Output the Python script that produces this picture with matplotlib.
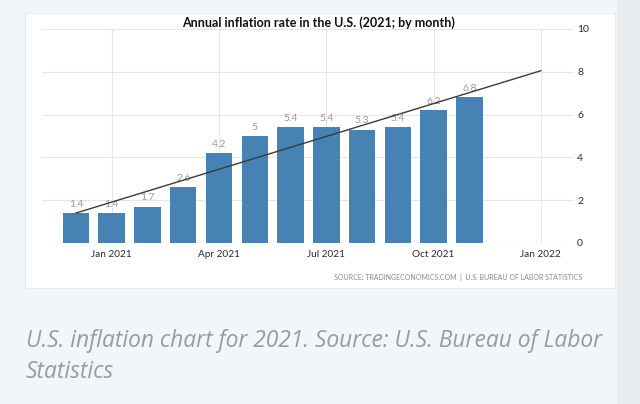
import matplotlib
matplotlib.use("Agg")
import matplotlib.pyplot as plt
from matplotlib.patches import Rectangle
import numpy as np

# data (annual CPI inflation, %)
months = ["Dec 2020", "Jan 2021", "Feb 2021", "Mar 2021", "Apr 2021", "May 2021",
          "Jun 2021", "Jul 2021", "Aug 2021", "Sep 2021", "Oct 2021", "Nov 2021",
          "Dec 2021", "Jan 2022"]
values = [1.4, 1.4, 1.7, 2.6, 4.2, 5.0, 5.4, 5.4, 5.3, 5.4, 6.2, 6.8]
value_labels = ["1.4", "1.4", "1.7", "2.6", "4.2", "5", "5.4", "5.4", "5.3", "5.4", "6.2", "6.8"]
tick_labels = ["Jan 2021", "Apr 2021", "Jul 2021", "Oct 2021", "Jan 2022"]
y_ticks = [0, 2, 4, 6, 8, 10]
trend_months = ["Dec 2020", "Jan 2022"]
trend_values = [1.4, 8.05]

W, H = 640, 404

def fx(px):
    return px / W

def fy(py):
    return 1 - py / H

fig = plt.figure(figsize=(6.4, 4.04), dpi=100)
fig.patch.set_facecolor("#f2f6f9")

# right page shadow strip and white chart panel
fig.patches.append(Rectangle((fx(617), 0), fx(640) - fx(617), 1, transform=fig.transFigure,
                             facecolor="#e8ecef", edgecolor="none", zorder=-2))
fig.patches.append(Rectangle((fx(25), fy(288)), fx(615) - fx(25), fy(13) - fy(288),
                             transform=fig.transFigure, facecolor="white",
                             edgecolor="#e4e8eb", linewidth=0.6, zorder=-1))

ax = fig.add_axes([fx(42), fy(243), fx(573) - fx(42), fy(29) - fy(243)])
ax.set_facecolor("none")
ax.set_zorder(2)

x = np.arange(len(values))
ax.bar(x, values, width=0.74, color="#4682b4", zorder=2)
for xi, v, lab in zip(x, values, value_labels):
    ax.annotate(lab, (xi, v), xytext=(0, 3), textcoords="offset points",
                ha="center", va="bottom", fontsize=7.5, color="#999999", family="Lato")

tx = [months.index(m) for m in trend_months]
ax.plot(tx, trend_values, color="#3a3a3a", linewidth=1.0, zorder=3)

ax.set_xlim(-0.95, 13.9)
ax.set_ylim(0, 10)
ax.set_xticks([months.index(t) for t in tick_labels])
ax.set_xticklabels(tick_labels, fontsize=7.2, color="#2a2a2a", family="Lato")
ax.set_yticks(y_ticks)
ax.set_yticklabels([str(t) for t in y_ticks], fontsize=7.5, color="#2a2a2a", family="Lato")
ax.yaxis.tick_right()
ax.tick_params(axis="both", length=0)
ax.tick_params(axis="x", pad=5)
ax.tick_params(axis="y", pad=3)
ax.grid(True, color="#e6e6e6", linewidth=0.8, zorder=0)
for s in ax.spines.values():
    s.set_visible(False)

fig.text(fx(318), fy(23), "Annual inflation rate in the U.S. (2021; by month)",
         ha="center", va="center", fontsize=9, fontweight="bold", color="#111111", family="Lato")
fig.text(fx(582), fy(277), "SOURCE: TRADINGECONOMICS.COM  |  U.S. BUREAU OF LABOR STATISTICS",
         ha="right", va="center", fontsize=5.0, color="#8a8a8a", family="Lato")

fig.text(fx(26), fy(341), "U.S. inflation chart for 2021. Source: U.S. Bureau of Labor",
         ha="left", va="center", fontsize=16.4, style="italic", color="#969ca4", family="Open Sans")
fig.text(fx(26), fy(372), "Statistics",
         ha="left", va="center", fontsize=16.4, style="italic", color="#969ca4", family="Open Sans")

fig.savefig("out.png", dpi=100, facecolor=fig.get_facecolor())
